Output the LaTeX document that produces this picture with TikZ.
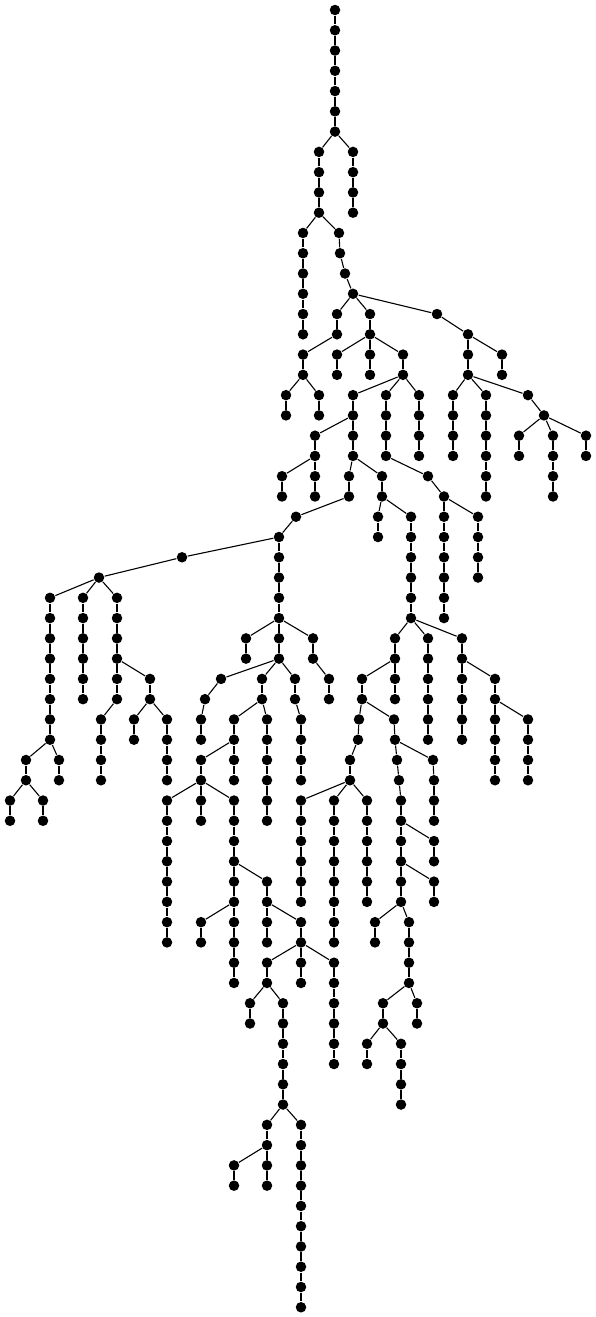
\documentclass[tikz,border=0pt]{standalone}
\usepackage{tikz}

\begin{document}
\begin{tikzpicture}[x=1pt,y=-20.27pt,line width=1.1pt,
    dot/.style={circle,fill=black,inner sep=0pt,minimum size=10.5pt}]
  \useasboundingbox (0,-0.4933) rectangle (596,64.48);
  \node[dot] (v0) at (335,0) {};
  % each entry: name/x/level/parent
  \foreach \nd/\xp/\lv/\pa in {
    v1/335/1/v0,v2/335/2/v1,v3/335/3/v2,v4/335/4/v3,v5/335/5/v4,v6/335/6/v5,
    v7/353/7/v6,v8/353/8/v7,v9/353/9/v8,v10/353/10/v9,
    v11/319/7/v6,v12/319/8/v11,v13/319/9/v12,v14/319/10/v13,
    v15/303/11/v14,v16/303/12/v15,v17/303/13/v16,v18/303/14/v17,v19/303/15/v18,v20/303/16/v19,
    v21/339/11/v14,v22/340/12/v21,v23/345/13/v22,v24/353/14/v23,
    v25/337/15/v24,v26/337/16/v25,v27/303/17/v26,v28/303/18/v27,
    v29/286/19/v28,v30/286/20/v29,v31/319/19/v28,v32/319/20/v31,
    v33/370/15/v24,v34/370/16/v33,v35/337/17/v34,v36/337/18/v35,
    v37/370/17/v34,v38/370/18/v37,v39/403/17/v34,v40/403/18/v39,
    v41/419/19/v40,v42/419/20/v41,v43/419/21/v42,v44/419/22/v43,
    v45/386/19/v40,v46/386/20/v45,v47/386/21/v46,v48/386/22/v47,v49/428/23/v48,v50/444/24/v49,
    v51/444/25/v50,v52/444/26/v51,v53/444/27/v52,v54/444/28/v53,v55/444/29/v54,v56/444/30/v55,
    v57/478/25/v50,v58/478/26/v57,v59/478/27/v58,v60/478/28/v59,
    v61/353/19/v40,v62/353/20/v61,v63/315/21/v62,v64/315/22/v63,
    v65/282/23/v64,v66/282/24/v65,v67/315/23/v64,v68/315/24/v67,
    v69/353/21/v62,v70/353/22/v69,v71/349/23/v70,v72/349/24/v71,v73/382/23/v70,v74/382/24/v73,
    v75/378/25/v74,v76/378/26/v75,
    v77/411/25/v74,v78/411/26/v77,v79/411/27/v78,v80/411/28/v79,v81/411/29/v80,v82/411/30/v81,
    v83/395/31/v82,v84/395/32/v83,v85/395/33/v84,v86/395/34/v85,
    v87/362/33/v84,v88/362/34/v87,v89/359/35/v88,v90/358/36/v89,v91/350/37/v90,v92/350/38/v91,
    v93/301/39/v92,v94/301/40/v93,v95/301/41/v94,v96/301/42/v95,v97/301/43/v96,v98/301/44/v97,
    v99/334/39/v92,v100/334/40/v99,v101/334/41/v100,v102/334/42/v101,
    v103/334/43/v102,v104/334/44/v103,v105/334/45/v104,v106/334/46/v105,
    v107/367/39/v92,v108/367/40/v107,v109/367/41/v108,v110/367/42/v109,v111/367/43/v110,v112/367/44/v111,
    v113/394/35/v88,v114/395/36/v113,v115/397/37/v114,v116/399/38/v115,v117/401/39/v116,
    v118/401/40/v117,v119/401/41/v118,v120/401/42/v119,v121/401/43/v120,v122/401/44/v121,
    v123/434/41/v118,v124/434/42/v123,v125/434/43/v120,v126/434/44/v125,
    v127/375/45/v122,v128/375/46/v127,
    v129/409/45/v122,v130/409/46/v129,v131/409/47/v130,v132/409/48/v131,
    v133/417/49/v132,v134/417/50/v133,v135/383/49/v132,v136/383/50/v135,
    v137/367/51/v136,v138/367/52/v137,
    v139/401/51/v136,v140/401/52/v139,v141/401/53/v140,v142/401/54/v141,
    v143/433/37/v114,v144/434/38/v143,v145/434/39/v144,v146/434/40/v145,
    v147/428/31/v82,v148/428/32/v147,v149/428/33/v148,v150/428/34/v149,v151/428/35/v150,v152/428/36/v151,
    v153/462/31/v82,v154/462/32/v153,v155/462/33/v154,v156/462/34/v155,v157/462/35/v156,v158/462/36/v157,
    v159/495/33/v154,v160/495/34/v159,v161/495/35/v160,v162/495/36/v161,v163/495/37/v162,v164/495/38/v163,
    v165/528/35/v160,v166/528/36/v165,v167/528/37/v166,v168/528/38/v167,
    % long branch to the left
    v169/296/25/v72,v170/279/26/v169,v171/182/27/v170,v172/99/28/v171,
    v173/50/29/v172,v174/50/30/v173,v175/50/31/v174,v176/50/32/v175,
    v177/50/33/v176,v178/50/34/v177,v179/50/35/v178,v180/50/36/v179,
    v181/26/37/v180,v182/26/38/v181,v183/10/39/v182,v184/10/40/v183,v185/43/39/v182,v186/43/40/v185,
    v187/59/37/v180,v188/59/38/v187,
    v189/83/29/v172,v190/83/30/v189,v191/83/31/v190,v192/83/32/v191,v193/83/33/v192,v194/83/34/v193,
    v195/117/29/v172,v196/117/30/v195,v197/117/31/v196,v198/117/32/v197,
    v199/117/33/v198,v200/117/34/v199,v201/101/35/v200,v202/101/36/v201,v203/101/37/v202,v204/101/38/v203,
    v205/150/33/v198,v206/150/34/v205,v207/134/35/v206,v208/134/36/v207,
    v209/167/35/v206,v210/167/36/v209,v211/167/37/v210,v212/167/38/v211,
    v213/279/27/v170,v214/279/28/v213,v215/279/29/v214,v216/279/30/v215,
    v217/246/31/v216,v218/246/32/v217,v219/279/31/v216,v220/279/32/v219,
    v221/313/31/v216,v222/313/32/v221,v223/329/33/v222,v224/329/34/v223,
    v225/221/33/v220,v226/205/34/v225,v227/201/35/v226,v228/201/36/v227,
    v229/262/33/v220,v230/262/34/v229,v231/234/35/v230,v232/234/36/v231,v233/234/37/v232,v234/234/38/v233,
    v235/201/37/v232,v236/201/38/v235,v237/201/39/v236,v238/201/40/v237,
    v239/167/39/v236,v240/167/40/v239,v241/167/41/v240,v242/167/42/v241,
    v243/167/43/v242,v244/167/44/v243,v245/167/45/v244,v246/167/46/v245,
    v247/234/39/v236,v248/234/40/v247,v249/234/41/v248,v250/234/42/v249,
    v251/234/43/v250,v252/234/44/v251,v253/201/45/v252,v254/201/46/v253,
    v255/234/45/v252,v256/234/46/v255,v257/234/47/v256,v258/234/48/v257,
    v259/267/43/v250,v260/267/44/v259,v261/267/45/v260,v262/267/46/v261,
    v263/301/45/v260,v264/301/46/v263,
    v265/267/47/v264,v266/267/48/v265,v267/250/49/v266,v268/250/50/v267,
    v269/283/49/v266,v270/283/50/v269,v271/283/51/v270,v272/283/52/v271,v273/283/53/v272,v274/283/54/v273,
    v275/267/55/v274,v276/267/56/v275,v277/234/57/v276,v278/234/58/v277,v279/267/57/v276,v280/267/58/v279,
    v281/301/55/v274,v282/301/56/v281,v283/301/57/v282,v284/301/58/v283,v285/301/59/v284,
    v286/301/60/v285,v287/301/61/v286,v288/301/62/v287,v289/301/63/v288,v290/301/64/v289,
    v291/301/47/v264,v292/301/48/v291,
    v293/334/47/v264,v294/334/48/v293,v295/334/49/v294,v296/334/50/v295,v297/334/51/v296,v298/334/52/v297,
    v299/267/35/v230,v300/267/36/v299,v301/267/37/v300,v302/267/38/v301,v303/267/39/v302,v304/267/40/v303,
    v305/295/33/v220,v306/295/34/v305,v307/301/35/v306,v308/301/36/v307,v309/301/37/v308,v310/301/38/v309,
    % right branch
    v311/437/15/v24,v312/468/16/v311,v313/502/17/v312,v314/502/18/v313,v315/468/17/v312,v316/468/18/v315,
    v317/453/19/v316,v318/453/20/v317,v319/453/21/v318,v320/453/22/v319,
    v321/486/19/v316,v322/486/20/v321,v323/486/21/v322,v324/486/22/v323,v325/486/23/v324,v326/486/24/v325,
    v327/528/19/v316,v328/544/20/v327,v329/519/21/v328,v330/519/22/v329,
    v331/553/21/v328,v332/553/22/v331,v333/553/23/v332,v334/553/24/v333,
    v335/586/21/v328,v336/586/22/v335}{
     \node[dot] (\nd) at (\xp,\lv) {};
     \draw (\pa) -- (\nd);
  }
\end{tikzpicture}
\end{document}
